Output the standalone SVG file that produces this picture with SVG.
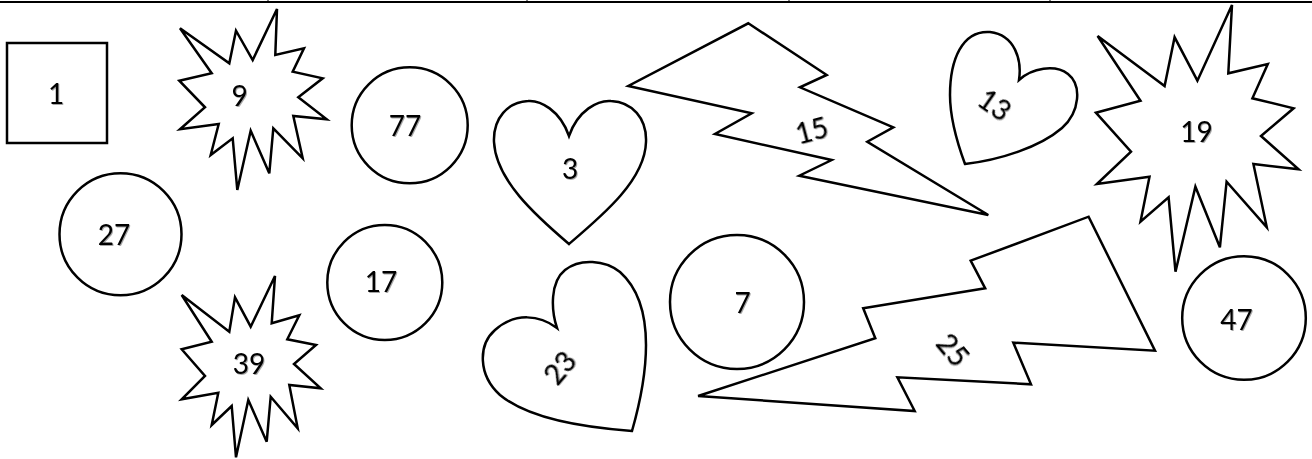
<svg xmlns="http://www.w3.org/2000/svg" width="1312" height="459" viewBox="0 0 1312 459">
<defs>
<filter id="sh" x="-20%" y="-20%" width="140%" height="140%">
<feDropShadow dx="1" dy="1" stdDeviation="0.7" flood-color="#000" flood-opacity="0.35"/>
</filter>
</defs>
<style>
.s{fill:#fff;stroke:#000;stroke-width:2.5;stroke-linejoin:miter}
.t{font-family:Lato,"Liberation Sans",sans-serif;font-size:28px;fill:#000;text-anchor:middle;filter:url(#sh)}
.tb{stroke:#000;fill:none}
</style>
<rect width="1312" height="459" fill="#fff"/>
<g id="table-edge">
<line class="tb" x1="0" y1="2" x2="1312" y2="2" stroke-width="2"/>
<line class="tb" x1="268" y1="0" x2="268" y2="2" stroke-width="1"/>
<line class="tb" x1="527" y1="0" x2="527" y2="2" stroke-width="1"/>
<line class="tb" x1="789" y1="0" x2="789" y2="2" stroke-width="1"/>
<line class="tb" x1="1050" y1="0" x2="1050" y2="2" stroke-width="1"/>
</g>
<g id="connectors"/>
<g id="n1">
<rect class="s" x="7" y="43" width="100" height="100"/>
<text class="t" x="56" y="104">1</text>
</g>
<g id="n9">
<polygon class="s" points="180,28.3 229.3,63.3 236,30.7 252.7,60 277,9 275.3,55 304,48.3 292.7,71.7 322.7,78.3 298.3,97.3 326.7,119.3 293.3,116 302.7,158.3 273.3,128.3 269.3,173.3 250.7,130.7 237.3,190 232.7,138.3 210.7,155 218.7,124 180,129.3 205,107.3 179.3,80.7 211.7,73.3"/>
<text class="t" x="239.5" y="106">9</text>
</g>
<g id="n77">
<circle class="s" cx="409.7" cy="125.3" r="58"/>
<text class="t" x="405" y="135.5">77</text>
</g>
<g id="n3">
<path class="s" d="M569,136 C560,110 540,100 528,101 C508,102 493,118 494,142 C496,180 535,215 569,244 C603,215 645,180 646,142 C647,118 632,102 611,101 C598,100 578,110 569,136 Z"/>
<text class="t" x="570" y="178.5">3</text>
</g>
<g id="n15">
<polygon class="s" points="748.3,23.3 826.7,75 800,87.3 893.3,127.3 867.3,141.7 988.3,215 799.3,175.7 831.7,160 715,134 751.7,113.3 628.3,86"/>
<text class="t" transform="translate(811.7,130.7) rotate(-15)" x="0" y="9.7">15</text>
</g>
<g id="n13">
<path class="s" d="M1019,80 C1022,60 1015,35 990,32 C962,30 950,60 950,95 C950,120 958,145 965,164 C1000,160 1040,147 1062,128 C1080,112 1082,85 1068,74 C1055,64 1032,68 1019,80 Z"/>
<text class="t" transform="translate(994.5,105) rotate(35)" x="0" y="9.7">13</text>
</g>
<g id="n19">
<polygon class="s" points="1097.6,36 1164.6,86 1174.6,37.3 1197.4,80.7 1232,5 1228.3,73.3 1267.8,64 1252.4,98.3 1293.6,108.3 1261,136 1298.6,169.3 1253.4,164 1266.8,227.3 1226.6,181.7 1219.9,247.3 1195.4,186.7 1175.5,271.7 1168.6,197.3 1140.5,221.7 1149.5,176.7 1096.9,184 1131,151.7 1095.9,112.7 1140.5,100.7"/>
<text class="t" x="1196.4" y="141.5">19</text>
</g>
<g id="n27">
<circle class="s" cx="120.5" cy="234.3" r="61"/>
<text class="t" x="114" y="245">27</text>
</g>
<g id="n17">
<circle class="s" cx="384.8" cy="282.5" r="57.5"/>
<text class="t" x="381" y="292.2">17</text>
</g>
<g id="n39">
<polygon class="s" points="181.7,295 229.3,331.7 235,297.3 250.7,326.7 275,276 271.7,323.3 299.3,315.3 287.3,339.3 316,345 294,364 320.7,388.3 289.3,385 297.7,428.3 270.7,396.7 266.7,441.7 248.3,400 236,457.3 231.7,406 211.7,425 218.3,392.7 181.7,399.3 205,376 181.7,349.3 211.7,341.7"/>
<text class="t" x="249" y="373.5">39</text>
</g>
<g id="n23">
<path class="s" d="M557,328 C551,310 550,282 565,270 C580,258 605,260 620,272 C638,288 646,315 646,345 C646,380 638,410 632,431 C590,428 530,420 500,395 C478,375 478,345 495,330 C515,312 540,315 557,328 Z"/>
<text class="t" transform="translate(560,368) rotate(-50)" x="0" y="9.7">23</text>
</g>
<g id="n7">
<circle class="s" cx="737" cy="302" r="67"/>
<text class="t" x="742.5" y="313">7</text>
</g>
<g id="n25">
<polygon class="s" points="1088.6,216.7 1155,350.7 1013.3,342.7 1031,384.3 897.4,377.3 914.7,411 698.1,396 875.3,338.3 863.2,308.3 985.2,288.3 970.7,260.7"/>
<text class="t" transform="translate(952.7,350) rotate(50)" x="0" y="9.7">25</text>
</g>
<g id="n47">
<circle class="s" cx="1244" cy="318" r="61.8"/>
<text class="t" x="1236.6" y="329.7">47</text>
</g>
</svg>
